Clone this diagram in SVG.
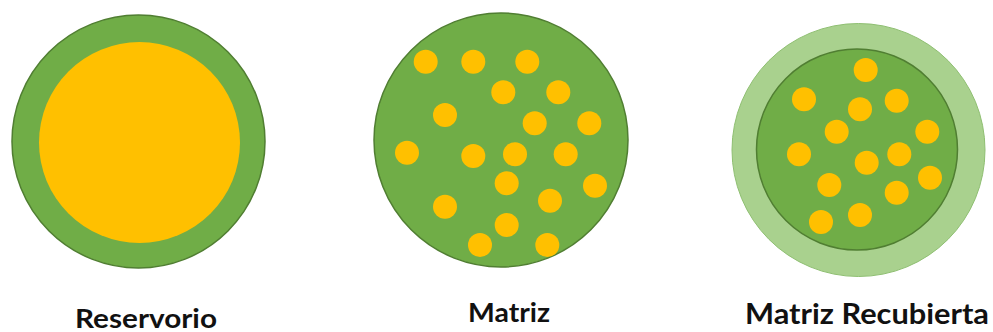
<svg xmlns="http://www.w3.org/2000/svg" width="993" height="332" viewBox="0 0 993 332">
<style>
.g{fill:#70AD47;stroke:#507E32;stroke-width:1.5}
.lg{fill:#A9D18E;stroke:#8FBF72;stroke-width:1}
.o{fill:#FFC000}
.lbl{font-family:Lato,"Open Sans","Liberation Sans",sans-serif;font-weight:bold;fill:#111;text-anchor:start}
</style>
<rect width="993" height="332" fill="#fff"/>
<g id="reservorio">
<circle class="g" cx="138.5" cy="141.5" r="126.5"/>
<circle class="o" cx="139.5" cy="142.5" r="100.5"/>
<text class="lbl" x="75" y="327.5" font-size="26" textLength="142" lengthAdjust="spacingAndGlyphs">Reservorio</text>
</g>
<g id="matriz">
<circle class="g" cx="501" cy="140" r="127"/>
<g class="o">
<circle cx="425.7" cy="61.7" r="12"/>
<circle cx="473.3" cy="61.7" r="12"/>
<circle cx="527.3" cy="61.7" r="12"/>
<circle cx="503.3" cy="92.3" r="12"/>
<circle cx="558.3" cy="92.3" r="12"/>
<circle cx="445" cy="115" r="12"/>
<circle cx="534.7" cy="123.3" r="12"/>
<circle cx="589.3" cy="123.3" r="12"/>
<circle cx="407" cy="152.7" r="12"/>
<circle cx="473.3" cy="156" r="12"/>
<circle cx="515" cy="154.3" r="12"/>
<circle cx="565.7" cy="154.3" r="12"/>
<circle cx="506.7" cy="183.3" r="12"/>
<circle cx="595" cy="185.7" r="12"/>
<circle cx="445" cy="206.7" r="12"/>
<circle cx="550" cy="200.7" r="12"/>
<circle cx="506.7" cy="225" r="12"/>
<circle cx="480" cy="245" r="12"/>
<circle cx="547.3" cy="245" r="12"/>
</g>
<text class="lbl" x="468" y="322" font-size="26" textLength="82" lengthAdjust="spacingAndGlyphs">Matriz</text>
</g>
<g id="matriz-recubierta">
<circle class="lg" cx="858.5" cy="150" r="126.5"/>
<circle class="g" cx="857" cy="149.5" r="100.5"/>
<g class="o">
<circle cx="865.7" cy="70" r="12"/>
<circle cx="804" cy="99.3" r="12"/>
<circle cx="896.7" cy="100.7" r="12"/>
<circle cx="860" cy="109.3" r="12"/>
<circle cx="836.7" cy="131.7" r="12"/>
<circle cx="927.3" cy="131.7" r="12"/>
<circle cx="799" cy="154.3" r="12"/>
<circle cx="899.3" cy="154.3" r="12"/>
<circle cx="866.7" cy="162.7" r="12"/>
<circle cx="930" cy="177.7" r="12"/>
<circle cx="829.3" cy="185" r="12"/>
<circle cx="896.7" cy="192.7" r="12"/>
<circle cx="860" cy="215" r="12"/>
<circle cx="821" cy="222" r="12"/>
</g>
<text class="lbl" x="745" y="324" font-size="28" textLength="244" lengthAdjust="spacingAndGlyphs">Matriz Recubierta</text>
</g>
<g id="connectors"/>
</svg>
